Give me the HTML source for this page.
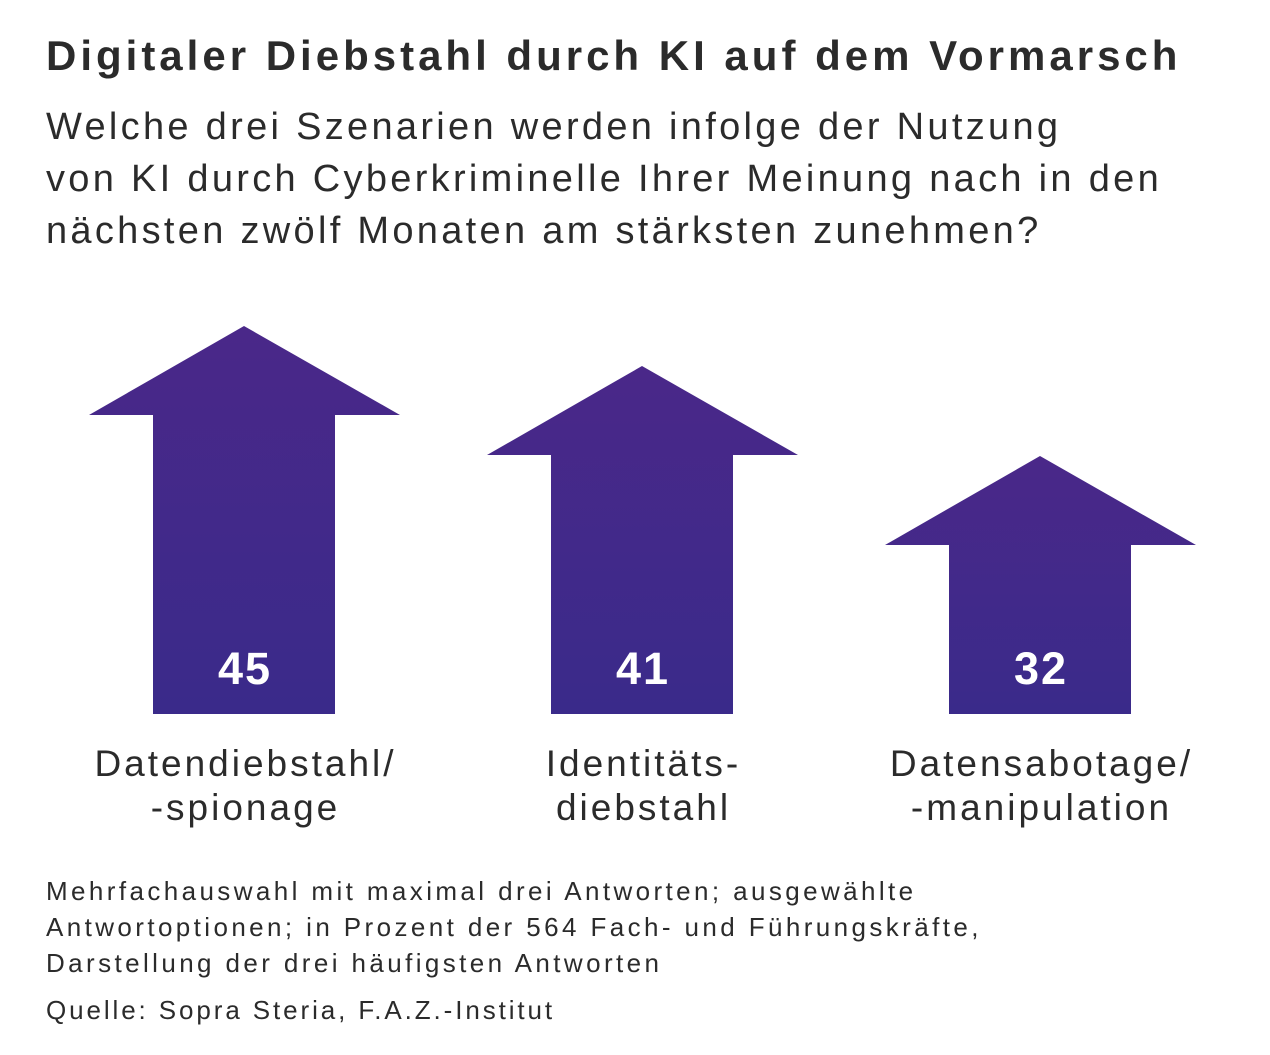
<!DOCTYPE html>
<html><head><meta charset="utf-8"><style>
body{margin:0;width:1270px;height:1055px;background:#fff;font-family:"Liberation Sans",sans-serif;color:#2b2b2b;overflow:hidden}
.t{position:absolute;left:46px;white-space:nowrap}
</style></head><body>
<div class="t" style="top:32px;font-size:42px;font-weight:bold;letter-spacing:4px">Digitaler Diebstahl durch KI auf dem Vormarsch</div>
<div class="t" style="top:101px;font-size:38px;line-height:52px;letter-spacing:3.3px">Welche drei Szenarien werden infolge der Nutzung<br>von KI durch Cyberkriminelle Ihrer Meinung nach in den<br>nächsten zwölf Monaten am stärksten zunehmen?</div>
<svg id="chart" style="position:absolute;left:0;top:0" width="1270" height="1055">
<defs><linearGradient id="g" x1="0" y1="0" x2="0" y2="1"><stop offset="0" stop-color="#4a2889"/><stop offset="1" stop-color="#3a2a8a"/></linearGradient></defs>
</svg>
<div class="t" style="top:873px;font-size:26px;line-height:36px;letter-spacing:3.4px">Mehrfachauswahl mit maximal drei Antworten; ausgewählte<br>Antwortoptionen; in Prozent der 564 Fach- und Führungskräfte,<br>Darstellung der drei häufigsten Antworten</div>
<div class="t" style="top:995px;font-size:26px;letter-spacing:2.9px">Quelle: Sopra Steria, F.A.Z.-Institut</div>
<script>
const categories1=["Datendiebstahl/","Identitäts-","Datensabotage/"];
const categories2=["-spionage","diebstahl","-manipulation"];
const values=[45,41,32];
const svg=document.getElementById('chart');
const NS='http://www.w3.org/2000/svg';
const base=714, scale=10, off=62;
const y=v=>base-(v*scale-off);
values.forEach((v,i)=>{
  const cx=244+i*398, tip=y(v), hb=tip+89;
  const p=document.createElementNS(NS,'polygon');
  p.setAttribute('points',`${cx},${tip} ${cx+156},${hb} ${cx+91},${hb} ${cx+91},${base} ${cx-91},${base} ${cx-91},${hb} ${cx-155},${hb}`);
  p.setAttribute('fill','url(#g)');
  
  
  svg.appendChild(p);
  const t=document.createElementNS(NS,'text');
  t.setAttribute('x',cx+1);t.setAttribute('y',684);t.setAttribute('text-anchor','middle');
  t.setAttribute('fill','#fff');t.setAttribute('font-size','45');t.setAttribute('font-weight','bold');
  t.setAttribute('letter-spacing','2');
  t.setAttribute('font-family','Liberation Sans, sans-serif');
  t.textContent=v;
  
  
  svg.appendChild(t);
  [categories1[i],categories2[i]].forEach((s,j)=>{
    const c=document.createElementNS(NS,'text');
    c.setAttribute('x',cx+1.5);c.setAttribute('y',776+j*44);c.setAttribute('text-anchor','middle');
    c.setAttribute('fill','#2b2b2b');c.setAttribute('font-size','37');
    c.setAttribute('letter-spacing','3');
    c.setAttribute('font-family','Liberation Sans, sans-serif');
    c.textContent=s;
    
    
    svg.appendChild(c);
  });
});
</script>
</body></html>
